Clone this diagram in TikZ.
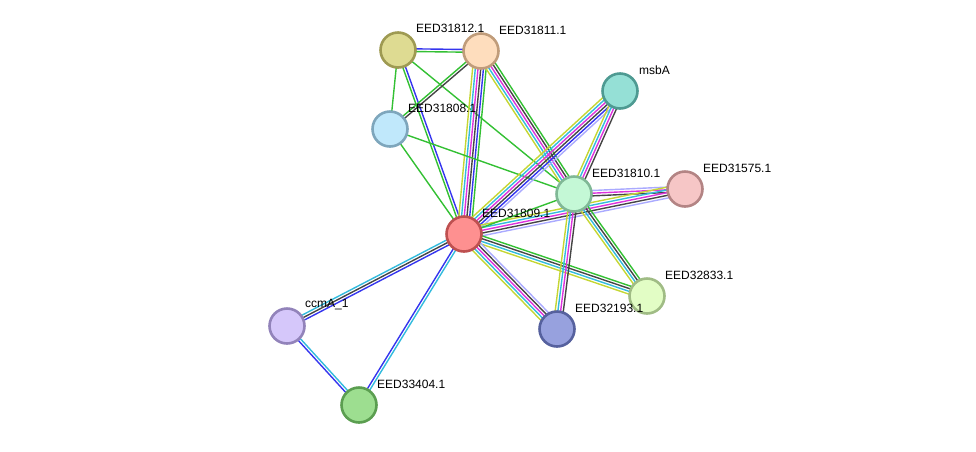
\documentclass[tikz,border=0pt]{standalone}
\usepackage{fontspec}
\setmainfont{Liberation Sans}
\usetikzlibrary{calc,backgrounds}
\definecolor{cgreen}{HTML}{33C033}
\definecolor{cblue}{HTML}{3535EE}
\definecolor{cblack}{HTML}{454545}
\definecolor{cmag}{HTML}{DD33DD}
\definecolor{ccyan}{HTML}{33BBDD}
\definecolor{cyel}{HTML}{C5D633}
\definecolor{clav}{HTML}{AAAAFF}
\definecolor{f12}{HTML}{DEDB92}\definecolor{d12}{HTML}{9E9A52}
\definecolor{f11}{HTML}{FEDDBD}\definecolor{d11}{HTML}{C09C7A}
\definecolor{fmsb}{HTML}{95E0D6}\definecolor{dmsb}{HTML}{4E9A92}
\definecolor{f08}{HTML}{C0E8FB}\definecolor{d08}{HTML}{7EA6BC}
\definecolor{f10}{HTML}{C4F8D6}\definecolor{d10}{HTML}{80B896}
\definecolor{f75}{HTML}{F6C6C6}\definecolor{d75}{HTML}{B38484}
\definecolor{f09}{HTML}{FE9090}\definecolor{d09}{HTML}{BE5050}
\definecolor{f33}{HTML}{E2FDC5}\definecolor{d33}{HTML}{A0BC85}
\definecolor{f93}{HTML}{97A1DE}\definecolor{d93}{HTML}{56619E}
\definecolor{fccm}{HTML}{D5C7FA}\definecolor{dccm}{HTML}{9283BA}
\definecolor{f04}{HTML}{9DDE90}\definecolor{d04}{HTML}{5B9E50}
\newcommand\lnk[4]{%
  \foreach \col [count=\i] in {#4}{%
    \pgfmathsetmacro\off{(\i-(#3+1)/2)*2.7}%
    \draw[line width=1.4pt, color=\col] ($(#1)!\off pt!90:(#2)$) -- ($(#2)!\off pt!-90:(#1)$);%
  }%
}
\tikzset{
  prot/.style 2 args={circle, minimum size=35pt, inner sep=0pt, line width=2.6pt, fill=#1, draw=#2},
  lbl/.style={anchor=west, inner sep=1pt, font=\fontsize{12}{14}\selectfont, text=black}
}
\begin{document}
\begin{tikzpicture}[x=1pt,y=-1pt]
\useasboundingbox (0,0) rectangle (976,451);
\node[prot={f12}{d12}] (n12) at (398,50) {};
\node[prot={f11}{d11}] (n11) at (481,51) {};
\node[prot={fmsb}{dmsb}] (msb) at (620,91) {};
\node[prot={f08}{d08}] (n08) at (390,129) {};
\node[prot={f10}{d10}] (n10) at (574,194) {};
\node[prot={f75}{d75}] (n75) at (685,189) {};
\node[prot={f09}{d09}] (n09) at (464,234) {};
\node[prot={f33}{d33}] (n33) at (647,296) {};
\node[prot={f93}{d93}] (n93) at (557,329) {};
\node[prot={fccm}{dccm}] (ccm) at (287,326) {};
\node[prot={f04}{d04}] (n04) at (359,405) {};
\begin{scope}[on background layer]
\lnk{n12}{n11}{2}{cgreen,cblue}
\lnk{n12}{n08}{1}{cgreen}
\lnk{n12}{n09}{2}{cgreen,cblue}
\lnk{n12}{n10}{1}{cgreen}
\lnk{n11}{n08}{2}{cgreen,cblack}
\lnk{n11}{n09}{6}{cyel,ccyan,cmag,cblack,cblue,cgreen}
\lnk{n11}{n10}{5}{cyel,ccyan,cmag,cblack,cgreen}
\lnk{n08}{n10}{1}{cgreen}
\lnk{n08}{n09}{1}{cgreen}
\lnk{msb}{n09}{6}{cyel,ccyan,cmag,cblack,cblue,clav}
\lnk{msb}{n10}{4}{cyel,ccyan,cmag,cblack}
\lnk{n10}{n75}{3}{cblack,cmag,clav}
\lnk{n09}{n75}{5}{clav,cblack,cmag,ccyan,cyel}
\lnk{n09}{n10}{1}{cgreen}
\lnk{n09}{n33}{4}{cyel,ccyan,cblack,cgreen}
\lnk{n09}{n93}{5}{cyel,ccyan,cmag,cblack,clav}
\lnk{n10}{n93}{4}{cyel,ccyan,cmag,cblack}
\lnk{n10}{n33}{4}{cyel,ccyan,cblack,cgreen}
\lnk{n09}{ccm}{3}{ccyan,cblack,cblue}
\lnk{n09}{n04}{2}{cblue,ccyan}
\lnk{ccm}{n04}{2}{cblue,ccyan}
\end{scope}
\node[lbl] (l12) at (415,28) {EED31812.1};
\node[lbl] (l11) at (498,30) {EED31811.1};
\node[lbl] (lmsb) at (638,70) {msbA};
\node[lbl] (l08) at (407,108) {EED31808.1};
\node[lbl] (l10) at (591,173) {EED31810.1};
\node[lbl] (l75) at (702,168) {EED31575.1};
\node[lbl] (l09) at (481,213) {EED31809.1};
\node[lbl] (l33) at (664,275) {EED32833.1};
\node[lbl] (l93) at (574,308) {EED32193.1};
\node[lbl] (lccm) at (304,305) {ccmA\_1};
\node[lbl] (l04) at (376,384) {EED33404.1};
\end{tikzpicture}
\end{document}
